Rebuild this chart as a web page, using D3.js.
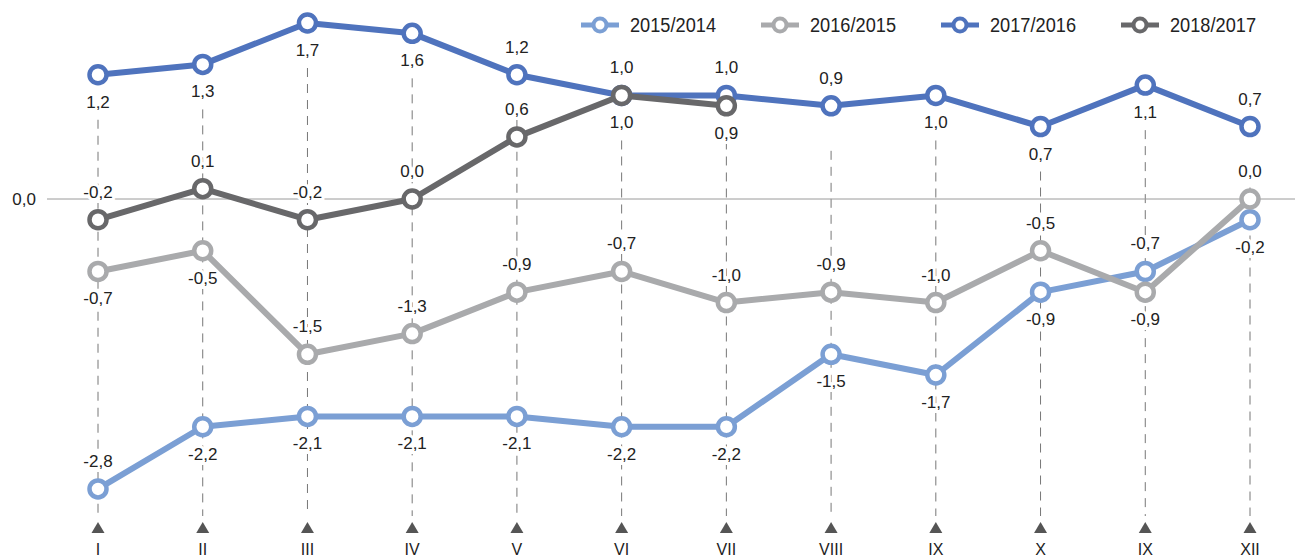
<!DOCTYPE html>
<html>
<head>
<meta charset="utf-8">
<script src="https://cdn.jsdelivr.net/npm/d3@7"></script>
<style>
  body { margin: 0; background: #fff; }
  svg { display: block; font-family: "Liberation Sans", Arial, sans-serif; }
</style>
</head>
<body>
<div id="chart"></div>
<script>
// month labels (as printed on the original)
const months = ["I", "II", "III", "IV", "V", "VI", "VII", "VIII", "IX", "X", "IX", "XII"];

const seriesNames = ["2015/2014", "2016/2015", "2017/2016", "2018/2017"];
const v2015 = [-2.8, -2.2, -2.1, -2.1, -2.1, -2.2, -2.2, -1.5, -1.7, -0.9, -0.7, -0.2];
const v2016 = [-0.7, -0.5, -1.5, -1.3, -0.9, -0.7, -1.0, -0.9, -1.0, -0.5, -0.9, 0.0];
const v2017 = [1.2, 1.3, 1.7, 1.6, 1.2, 1.0, 1.0, 0.9, 1.0, 0.7, 1.1, 0.7];
const v2018 = [-0.2, 0.1, -0.2, 0.0, 0.6, 1.0, 0.9];

// which side of the point the value label sits (1 = above, 0 = below)
const side2015 = [1, 0, 0, 0, 0, 0, 0, 0, 0, 0, 1, 0];
const side2016 = [0, 0, 1, 1, 1, 1, 1, 1, 1, 1, 0, 1];
const side2017 = [0, 0, 0, 0, 1, 1, 1, 1, 0, 0, 0, 1];
const side2018 = [1, 1, 1, 1, 1, 0, 0];

const colors = ["#7b9fd4", "#a9aaac", "#4f73bd", "#68686a"];

const width = 1295, height = 557;

const series = [
  {name: seriesNames[0], values: v2015, side: side2015, color: colors[0]},
  {name: seriesNames[1], values: v2016, side: side2016, color: colors[1]},
  {name: seriesNames[2], values: v2017, side: side2017, color: colors[2]},
  {name: seriesNames[3], values: v2018, side: side2018, color: colors[3]},
];

const x = d3.scalePoint(d3.range(months.length), [98, 1250]);
const y = d3.scaleLinear([0, 1.7], [199, 23]);
const fmt = v => d3.format(".1f")(v).replace(".", ",").replace("−", "-");

const svg = d3.select("#chart").append("svg")
    .attr("width", width)
    .attr("height", height)
    .attr("viewBox", [0, 0, width, height]);

// dashed drop lines, from under the top series down to the markers
const tops = months.map((m, i) => d3.max(series, s => s.values[i] === undefined ? -Infinity : s.values[i]));
svg.append("g")
    .attr("stroke", "#777")
    .attr("stroke-width", 1)
    .attr("stroke-dasharray", "9,7")
  .selectAll("line")
  .data(months.map((m, i) => i))
  .join("line")
    .attr("x1", i => x(i))
    .attr("x2", i => x(i))
    .attr("y1", i => y(tops[i]) + 45)
    .attr("y2", 516);

// zero line + label
svg.append("line")
    .attr("x1", 47).attr("x2", width)
    .attr("y1", y(0)).attr("y2", y(0))
    .attr("stroke", "#9a9a9a")
    .attr("stroke-width", 1);
svg.append("text")
    .attr("x", 36).attr("y", y(0))
    .attr("dy", "0.35em")
    .attr("text-anchor", "end")
    .attr("font-size", 17)
    .attr("fill", "#222")
    .text(fmt(0));

// x axis: small triangles and month labels
const xg = svg.append("g");
xg.selectAll("path")
  .data(months.map((m, i) => i))
  .join("path")
    .attr("transform", i => `translate(${x(i)},527)`)
    .attr("d", "M0,-5L6.5,6L-6.5,6Z")
    .attr("fill", "#555");
xg.selectAll("text")
  .data(months)
  .join("text")
    .attr("x", (m, i) => x(i))
    .attr("y", 555)
    .attr("text-anchor", "middle")
    .attr("font-size", 16)
    .attr("fill", "#222")
    .text(m => m);

// value labels first (with white halo) so lines sit on top of them
const labels = svg.append("g")
    .attr("font-size", 17)
    .attr("fill", "#222")
    .attr("text-anchor", "middle");
series.forEach(s => {
  labels.append("g").selectAll("text")
    .data(s.values)
    .join("text")
      .attr("x", (v, i) => x(i))
      .attr("y", (v, i) => y(v) + (s.side[i] ? -22 : 33))
      .attr("stroke", "#fff")
      .attr("stroke-width", 6)
      .attr("paint-order", "stroke")
      .text(v => fmt(v));
});

const line = d3.line()
    .x((v, i) => x(i))
    .y(v => y(v));

series.forEach(s => {
  const g = svg.append("g");
  g.append("path")
      .datum(s.values)
      .attr("fill", "none")
      .attr("stroke", s.color)
      .attr("stroke-width", 6)
      .attr("stroke-linejoin", "round")
      .attr("d", line);
  g.selectAll("circle")
    .data(s.values)
    .join("circle")
      .attr("cx", (v, i) => x(i))
      .attr("cy", v => y(v))
      .attr("r", 8.5)
      .attr("fill", "#fff")
      .attr("stroke", s.color)
      .attr("stroke-width", 4.5);
});

// legend
const legendX = [600, 780, 960, 1140];
const legend = svg.append("g")
  .selectAll("g")
  .data(series)
  .join("g")
    .attr("transform", (s, i) => `translate(${legendX[i]},25)`);
legend.append("line")
    .attr("x1", -19).attr("x2", 19)
    .attr("stroke", s => s.color)
    .attr("stroke-width", 5);
legend.append("circle")
    .attr("r", 6.5)
    .attr("fill", "#fff")
    .attr("stroke", s => s.color)
    .attr("stroke-width", 4);
legend.append("text")
    .attr("x", 30)
    .attr("dy", "0.36em")
    .attr("font-size", 20)
    .attr("textLength", 86)
    .attr("lengthAdjust", "spacingAndGlyphs")
    .attr("fill", "#222")
    .text(s => s.name);
</script>
</body>
</html>
